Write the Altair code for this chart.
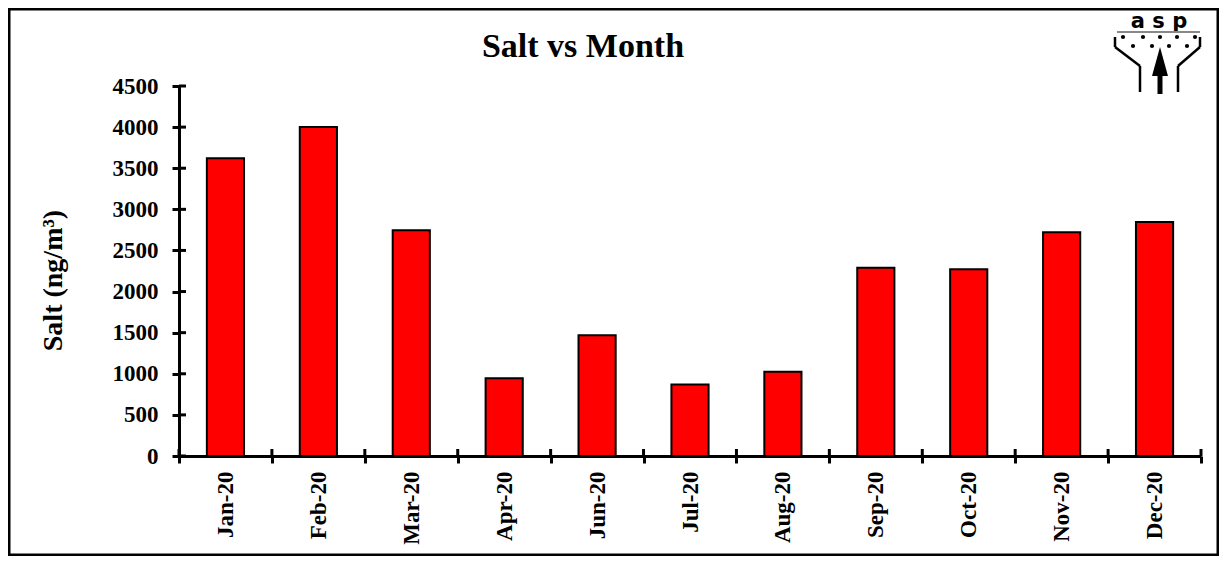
import altair as alt
import pandas as pd

months = ["Jan-20", "Feb-20", "Mar-20", "Apr-20", "Jun-20", "Jul-20",
          "Aug-20", "Sep-20", "Oct-20", "Nov-20", "Dec-20"]
salt = [3620, 4000, 2745, 945, 1470, 870, 1025, 2290, 2270, 2720, 2845]
y_ticks = [0, 500, 1000, 1500, 2000, 2500, 3000, 3500, 4000, 4500]

df = pd.DataFrame({"Month": months, "Salt": salt})
tick_df = pd.DataFrame({"Salt": y_ticks})
one = alt.Data(values=[{"k": 1}])

SERIF = "Liberation Serif"
W, H = 1022, 370
ydom = alt.Scale(domain=[0, 4500], nice=False, zero=True)
xscale = alt.Scale(paddingInner=0, paddingOuter=0)

xaxis = alt.Axis(title=None, labelAngle=270, labelFont=SERIF, labelFontSize=23,
                 labelFontWeight="bold", labelColor="black", labelPadding=8,
                 tickBand="extent", tickSize=7, tickWidth=3, tickColor="black",
                 domainWidth=3, domainColor="black")
yaxis = alt.Axis(values=y_ticks, format="d", title="Salt (ng/m³)", grid=False,
                 labelFont=SERIF, labelFontSize=23, labelFontWeight="bold",
                 labelColor="black", labelPadding=14,
                 tickSize=7, tickWidth=3, tickColor="black",
                 domainWidth=3, domainColor="black",
                 titleFont=SERIF, titleFontSize=28, titleFontWeight="bold",
                 titleColor="black", titleAngle=270, titleX=-118, titleY=194,
                 titleAlign="center", titleBaseline="alphabetic")

bars = alt.Chart(df).mark_bar(
    width=alt.RelativeBandSize(0.4), fill="#FF0000", stroke="black", strokeWidth=2
).encode(
    x=alt.X("Month:N", sort=months, scale=xscale, axis=xaxis),
    y=alt.Y("Salt:Q", scale=ydom, axis=yaxis),
)

xtick_in = alt.Chart(df).mark_rule(color="black", strokeWidth=3).encode(
    x=alt.X("Month:N", sort=months, scale=xscale, bandPosition=0, axis=xaxis),
    y=alt.value(H - 7), y2=alt.value(H),
)
xtick_end = alt.Chart(df).transform_filter(alt.datum.Month == months[-1]).mark_rule(
    color="black", strokeWidth=3).encode(
    x=alt.X("Month:N", sort=months, scale=xscale, bandPosition=1, axis=xaxis),
    y=alt.value(H - 7), y2=alt.value(H),
)
ytick_in = alt.Chart(tick_df).mark_rule(color="black", strokeWidth=3).encode(
    y=alt.Y("Salt:Q", scale=ydom, axis=yaxis),
    x=alt.value(0), x2=alt.value(7),
)

title = alt.Chart(one).mark_text(
    text="Salt vs Month", font=SERIF, fontSize=34, fontWeight="bold",
    align="center", baseline="alphabetic", color="black"
).encode(x=alt.value(404), y=alt.value(-29))

frame = alt.Chart(one).mark_rect(filled=False, stroke="black", strokeWidth=3).encode(
    x=alt.value(-170), x2=alt.value(W + 17), y=alt.value(-77), y2=alt.value(H + 99)
)

# logo (decoration)
D = 4
logo_text = alt.Chart(one).mark_text(
    text="a s p", font="DejaVu Sans", fontSize=21, fontWeight="bold",
    align="center", baseline="alphabetic", color="black"
).encode(x=alt.value(980), y=alt.value(-58))
logo_line = alt.Chart(one).mark_rule(color="#888888", strokeWidth=2).encode(
    x=alt.value(938), x2=alt.value(1021), y=alt.value(-58 + D), y2=alt.value(-58 + D))

def dot(x, y):
    return alt.Chart(one).mark_point(shape="circle", filled=True, fill="black",
                                     size=18, opacity=1).encode(
        x=alt.value(x), y=alt.value(y + D))

dots = [dot(x, -53) for x in (944, 964, 981, 998, 1016)] + \
       [dot(x, -44) for x in (954, 973, 990, 1008)]

def seg(x1, y1, x2, y2, w=2.5):
    return alt.Chart(one).mark_rule(color="black", strokeWidth=w).encode(
        x=alt.value(x1), y=alt.value(y1 + D), x2=alt.value(x2), y2=alt.value(y2 + D))

funnel = [
    seg(936, -53, 936, -43), seg(936, -43, 961, -24), seg(961, -24, 961, 2),
    seg(1021, -53, 1021, -43), seg(1021, -43, 999, -24), seg(999, -24, 999, 2),
    seg(981, -16, 981, 4, 5),
]
arrow_head = alt.Chart(one).mark_point(
    shape="M0,-1L0.55,1L-0.55,1Z", filled=True, fill="black",
    size=841, opacity=1
).encode(x=alt.value(981), y=alt.value(-28.5 + D))

chart = alt.layer(
    bars, xtick_in, xtick_end, ytick_in, title, frame,
    logo_text, logo_line, *dots, *funnel, arrow_head
).properties(
    width=W, height=H, autosize="none",
    padding={"left": 171, "top": 78, "right": 18, "bottom": 100},
    background="white",
).configure_view(strokeWidth=0)

chart.save("out.html", embed_options={"renderer": "svg", "actions": False})
